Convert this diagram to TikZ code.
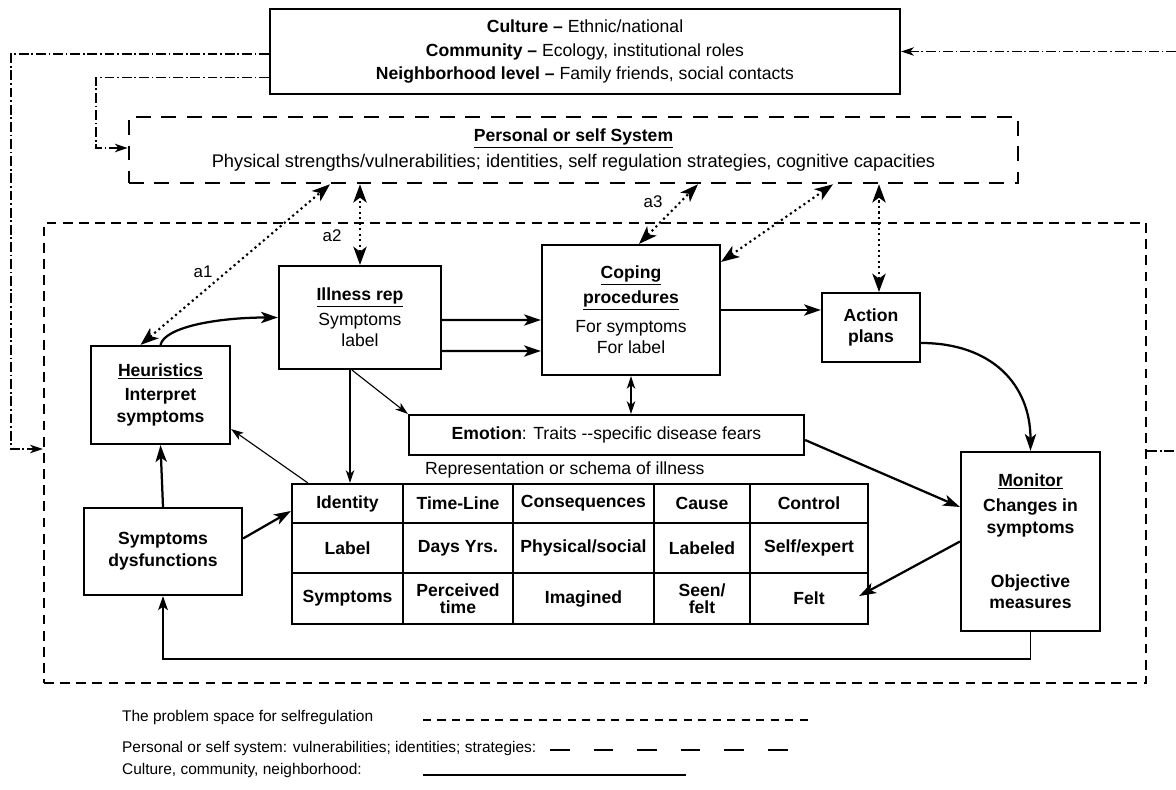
\documentclass[tikz,border=0pt]{standalone}
\usepackage{fontspec}
\setmainfont{Liberation Sans}
\usetikzlibrary{arrows.meta, calc, positioning}

\tikzset{
  box/.style={draw, line width=1.5pt, align=center, inner sep=2pt},
  boldbox/.style={box, font=\bfseries},
  cell/.style={font=\bfseries, align=center},
  spacedash/.style={line width=1.5pt, dash pattern=on 7pt off 4.5pt},
  selfdash/.style={line width=1.8pt, dash pattern=on 10.5pt off 7.5pt},
  chain/.style={line width=1.3pt, dash pattern=on 7pt off 2pt on 1.2pt off 2pt},
  chainlink/.style={chain, ->, >={Stealth[length=9pt,width=6pt,inset=2.5pt]}},
  link/.style={->, >={Stealth[length=12pt,width=8pt,inset=3pt]}, line width=1.6pt},
  midlink/.style={->, >={Stealth[length=10pt,width=7pt,inset=2.5pt]}, line width=1.2pt},
  thinlink/.style={->, >={Stealth[length=9pt,width=6pt,inset=2.5pt]}, line width=0.8pt},
  dotlink/.style={<->, >={Stealth[length=13pt,width=9.5pt,inset=3.5pt]}, line width=1.5pt, dash pattern=on 1.5pt off 2.4pt},
  tag/.style={font=\fontsize{12}{14}\selectfont},
  legend/.style={anchor=west, font=\fontsize{11}{13}\selectfont},
}
\newcommand{\heading}[1]{\underline{\textbf{#1}}}

\begin{document}
\fontsize{12.5}{15.5}\selectfont
\begin{tikzpicture}[x=0.025cm, y=-0.025cm]
\useasboundingbox (0,0) rectangle (1176,789);

% outer systems
\node[box, minimum width=15.75cm, minimum height=2.125cm] (culture) at (585,51.5)
  {\textbf{Culture --} Ethnic/national\\[1.5pt]
   \textbf{Community --} Ecology, institutional roles\\[1.5pt]
   \textbf{Neighborhood level --} Family friends, social contacts};
\node[box, selfdash, minimum width=22.225cm, minimum height=1.65cm] (personal) at (573.5,150)
  {\heading{Personal or self System}\\[2.5pt]
   {\fontsize{13}{15.5}\selectfont Physical strengths/vulnerabilities; identities, self regulation strategies, cognitive capacities}};
\node[box, spacedash, minimum width=27.55cm, minimum height=11.5cm] (space) at (595,453) {};

% boxes inside the problem space
\node[boldbox, minimum width=3.475cm, minimum height=2.45cm] (heur) at (160.5,395)
  {\underline{Heuristics}\\[2pt] Interpret\\ symptoms};
\node[box, minimum width=4.05cm, minimum height=2.575cm] (illness) at (360,317.5)
  {\heading{Illness rep}\\[2pt] Symptoms\\ label};
\node[box, minimum width=4.45cm, minimum height=3.25cm] (coping) at (631,310)
  {\heading{Coping}\\[2pt] \heading{procedures}\\[5pt] For symptoms\\ For label};
\node[boldbox, minimum width=2.45cm, minimum height=1.725cm] (action) at (871,327.5) {Action\\ plans};
\node[box, minimum width=9.875cm, minimum height=1cm] (emotion) at (606.5,435)
  {\textbf{Emotion}: Traits -{}-specific disease fears};
\node[boldbox, minimum width=3.95cm, minimum height=2.175cm] (symp) at (163,551.5) {Symptoms\\ dysfunctions};
\node[boldbox, minimum width=3.475cm, minimum height=4.475cm] (monitor) at (1030.5,541.5)
  {\underline{Monitor}\\[2pt] Changes in\\ symptoms\\[23pt] Objective\\ measures};

% schema table
\node[anchor=west] (schematitle) at (419,470) {Representation or schema of illness};
\node[box, minimum width=14.4cm, minimum height=3.5cm] (schema) at (580,554) {};
\foreach \x in {403,513,654,750}
  \draw[line width=1.5pt] (\x,484) -- (\x,624);
\foreach \y in {523,573}
  \draw[line width=1.5pt] (292,\y) -- (868,\y);
\foreach \cx/\cy/\txt [count=\i] in {
    347.5/503.5/Identity, 458/503.5/Time-Line, 583.5/503.5/Consequences, 702/503.5/Cause, 809/503.5/Control,
    347.5/548/Label, 458/548/{Days Yrs.}, 583.5/548/{Physical/social}, 702/548/Labeled, 809/548/{Self/expert},
    347.5/598.5/Symptoms, 458/598.5/{Perceived\\[-3pt]time}, 583.5/598.5/Imagined, 702/598.5/{Seen/\\[-3pt]felt}, 809/598.5/Felt}
  \node[cell] (cell\i) at (\cx,\cy) {\txt};

% links to the personal system
\draw[dotlink] ($(heur.north)+(-20,0)$) -- ($(personal.south)+(-243.5,0)$);
\draw[dotlink] (illness.north) -- (illness.north |- personal.south);
\draw[dotlink] ($(coping.north)+(8,0)$) -- ($(personal.south)+(124.5,0)$);
\draw[dotlink] ($(coping.north east)+(0,18)$) -- ($(personal.south)+(259.5,0)$);
\draw[dotlink] ($(action.north)+(8,0)$) -- ($(action.north |- personal.south)+(8,0)$);
\node[tag] (a1) at (203,272) {a1};
\node[tag] (a2) at (332,236) {a2};
\node[tag] (a3) at (653,202) {a3};

% main flow
\draw[link] (heur.north) .. controls +(4,-18) and +(-60,0) .. (illness.west);
\draw[link] ($(illness.east)+(0,2.5)$) -- ($(coping.west)+(0,10)$);
\draw[link] ($(illness.east)+(0,33.5)$) -- ($(coping.west)+(0,41)$);
\draw[link] (coping.east) -- (coping.east -| action.west);
\draw[link] ($(action.east)+(0,15.5)$) .. controls +(70,0) and +(0,-67) .. (monitor.north);
\draw[link] ($(emotion.east)+(0,5)$) -- ($(monitor.west)+(0,-34.5)$);
\draw[link] (monitor.west) -- ($(schema.south east)+(-10,-29)$);
\draw[link] (symp.north) -- (heur.south);
\draw[link] ($(symp.east)+(0,-13)$) -- ($(schema.west)+(0,-43)$);
\draw[midlink] (monitor.south) -- ++(0,27) -| (symp.south);
\draw[thinlink] ($(schema.north west)+(17,0)$) -- ($(heur.south east)+(0,-16)$);
\draw[thinlink] ($(illness.south)+(-10,0)$) -- ($(illness.south |- schema.north)+(-10,0)$);
\draw[thinlink] ($(illness.south)+(-8,0)$) -- (emotion.north west);
\draw[thinlink, <->] (coping.south) -- (coping.south |- emotion.north);

% culture feedback lines
\coordinate (rimtop) at (1176,51.5);
\coordinate (rimmid) at (1176,451);
\draw[chainlink] ($(culture.west)+(0,2.5)$) -| ($(space.west)+(-32,-4)$) -- ($(space.west)+(0,-4)$);
\draw[chainlink] ($(culture.west)+(0,26)$) -| ($(personal.west)+(-32,-2)$) -- ($(personal.west)+(0,-2)$);
\draw[chainlink] (rimtop) -- (culture.east);
\draw[chain] ($(space.east)+(0,-2)$) -- (rimmid);

% legend
\node[legend] (lgspace) at (116,717) {The problem space for selfregulation};
\node[legend] (lgself) at (116,748) {Personal or self system: vulnerabilities; identities; strategies:};
\node[legend] (lgculture) at (116,770) {Culture, community, neighborhood:};
\draw[line width=1.2pt, dash pattern=on 5.7pt off 4.6pt] (423,720) -- (808,720);
\draw[line width=1.3pt, dash pattern=on 14pt off 17pt] (550,750) -- (808,750);
\draw[line width=1.2pt] (423,775) -- (686,775);
\end{tikzpicture}
\end{document}
